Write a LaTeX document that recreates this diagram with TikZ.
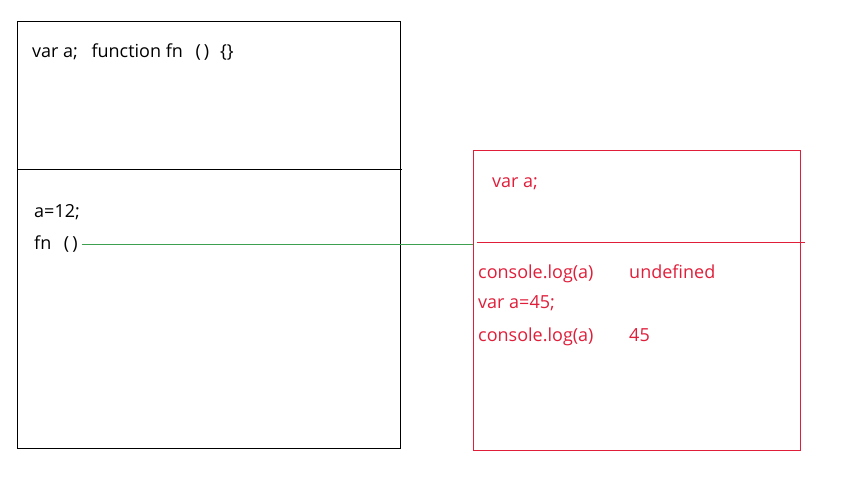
\documentclass[tikz,border=0pt]{standalone}
\usepackage{fontspec}
\setmainfont{Open Sans}
\usetikzlibrary{positioning}
\definecolor{jsred}{RGB}{224,30,58}
\definecolor{jsgreen}{RGB}{60,160,80}

\begin{document}
\begin{tikzpicture}[
		x=1pt, y=-1pt,
		% Styles
		scopebox/.style={draw=black, line width=0.8pt, inner sep=0pt, anchor=north west},
		redbox/.style={draw=jsred, line width=0.8pt, inner sep=0pt, anchor=north west},
		code/.style={anchor=base west, inner sep=0pt, font=\fontsize{18}{21}\selectfont},
		redcode/.style={code, text=jsred},
		link/.style={draw=jsgreen, line width=0.8pt}
		]
		\useasboundingbox (0,0) rectangle (851,482);
		
		% =========================================================
		% 1. LEFT SIDE: global scope
		% =========================================================
		\node[scopebox, minimum width=383pt, minimum height=427pt] (global) at (17,21) {};
		\coordinate (gsplitL) at (17,169);
		\coordinate (gsplitR) at (402,169);
		\draw[line width=0.8pt] (gsplitL) -- (gsplitR);
		
		\node[code] (hoist) at (32,57) {var a;\hspace{0.75em}function fn\hspace{0.7em}(\,)\hspace{0.6em}\{\}};
		\node[code] (assign) at (34,217) {a=12;};
		\node[code] (fncall) at (34,249) {fn\hspace{0.7em}(\,)};
		
		% =========================================================
		% 2. RIGHT SIDE: function scope
		% =========================================================
		\node[redbox, minimum width=327pt, minimum height=300pt] (local) at (473,150) {};
		\coordinate (lsplitL) at (477,242);
		\coordinate (lsplitR) at (805,242);
		\draw[draw=jsred, line width=0.8pt] (lsplitL) -- (lsplitR);
		
		\node[redcode] (lhoist) at (492,187) {var a;};
		\node[redcode] (log1) at (478,278) {console.log(a)};
		\node[redcode] (out1) at (629,278) {undefined};
		\node[redcode] (lassign) at (478,308) {var a=45;};
		\node[redcode] (log2) at (478,341) {console.log(a)};
		\node[redcode] (out2) at (629,341) {45};
		
		% =========================================================
		% 3. CALL LINK
		% =========================================================
		\draw[link] ([xshift=4pt,yshift=-1pt]fncall.east) -- ([yshift=-1pt]fncall.east -| local.west);
		
	\end{tikzpicture}
\end{document}
